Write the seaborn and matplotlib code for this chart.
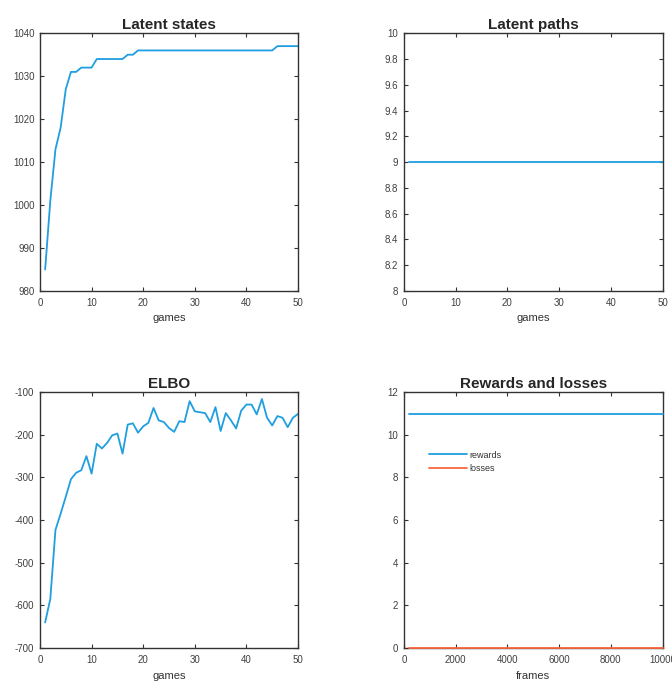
import matplotlib
matplotlib.use("Agg")
import matplotlib.pyplot as plt
import numpy as np
import pandas as pd
import seaborn as sns
from matplotlib.ticker import FormatStrFormatter

# ---- data ----
games = np.arange(1, 51)

latent_states = [985, 1001, 1013, 1018, 1027, 1031, 1031, 1032, 1032, 1032,
                 1034, 1034, 1034, 1034, 1034, 1034, 1035, 1035, 1036, 1036,
                 1036, 1036, 1036, 1036, 1036, 1036, 1036, 1036, 1036, 1036,
                 1036, 1036, 1036, 1036, 1036, 1036, 1036, 1036, 1036, 1036,
                 1036, 1036, 1036, 1036, 1036, 1037, 1037, 1037, 1037, 1037]

latent_paths = [9] * 50

elbo = [-640, -585, -423, -385, -345, -304, -289, -283, -250, -291,
        -221, -232, -219, -201, -197, -244, -176, -173, -195, -180,
        -172, -137, -166, -170, -184, -193, -168, -170, -121, -145,
        -147, -149, -170, -135, -191, -149, -166, -185, -143, -129,
        -129, -152, -116, -160, -178, -156, -160, -182, -160, -151]

frames = np.arange(200, 10001, 200)
rewards = [11] * 50
losses = [0] * 50

BLUE = "#1f9ee0"
ORANGE = "#f8693a"

sns.set_theme(style="ticks")
plt.rcParams["font.family"] = ["Liberation Sans", "DejaVu Sans"]
plt.rcParams["axes.unicode_minus"] = False

fig = plt.figure(figsize=(6.72, 6.84), dpi=100)
ax_states = fig.add_axes([0.0595, 0.5746, 0.384, 0.3768])
ax_paths = fig.add_axes([0.601, 0.5746, 0.385, 0.3768])
ax_elbo = fig.add_axes([0.0595, 0.0526, 0.384, 0.374])
ax_rl = fig.add_axes([0.601, 0.0526, 0.385, 0.374])


def style_axes(ax, title, xlabel):
    ax.set_title(title, fontsize=11, fontweight="bold", pad=3)
    ax.set_xlabel(xlabel, fontsize=8, color="#333333", labelpad=4)
    ax.set_ylabel("")
    ax.tick_params(direction="in", length=3, width=0.8, top=True, right=True,
                   labelsize=7, labelcolor="#404040", color="#333333")
    ax.tick_params(axis="x", pad=5)
    ax.tick_params(axis="y", pad=4)
    for sp in ax.spines.values():
        sp.set_visible(True)
        sp.set_color("#333333")
        sp.set_linewidth(1.0)


# Latent states
sns.lineplot(x=games, y=latent_states, ax=ax_states, color=BLUE, linewidth=1.3)
ax_states.set_xlim(0, 50)
ax_states.set_ylim(980, 1040)
ax_states.set_xticks(range(0, 51, 10))
ax_states.set_yticks(range(980, 1041, 10))
style_axes(ax_states, "Latent states", "games")

# Latent paths
sns.lineplot(x=games, y=latent_paths, ax=ax_paths, color=BLUE, linewidth=1.3)
ax_paths.set_xlim(0, 50)
ax_paths.set_ylim(8, 10)
ax_paths.set_xticks(range(0, 51, 10))
ax_paths.set_yticks(np.linspace(8, 10, 11))
ax_paths.yaxis.set_major_formatter(FormatStrFormatter("%g"))
style_axes(ax_paths, "Latent paths", "games")

# ELBO
sns.lineplot(x=games, y=elbo, ax=ax_elbo, color=BLUE, linewidth=1.3)
ax_elbo.set_xlim(0, 50)
ax_elbo.set_ylim(-700, -100)
ax_elbo.set_xticks(range(0, 51, 10))
ax_elbo.set_yticks(range(-700, -99, 100))
style_axes(ax_elbo, "ELBO", "games")

# Rewards and losses
rl = pd.DataFrame({
    "frames": np.concatenate([frames, frames]),
    "value": rewards + losses,
    "series": ["rewards"] * len(rewards) + ["losses"] * len(losses),
})
sns.lineplot(data=rl, x="frames", y="value", hue="series", ax=ax_rl,
             palette={"rewards": BLUE, "losses": ORANGE}, linewidth=1.3)
for ln in ax_rl.get_lines():
    ln.set_clip_on(False)
    ln.set_zorder(5)
ax_rl.set_xlim(0, 10000)
ax_rl.set_ylim(0, 12)
ax_rl.set_xticks(range(0, 10001, 2000))
ax_rl.set_yticks(range(0, 13, 2))
style_axes(ax_rl, "Rewards and losses", "frames")
leg = ax_rl.legend(loc="center left", bbox_to_anchor=(0.065, 0.728),
                   frameon=False, fontsize=6.5, handlelength=4.2,
                   handletextpad=0.3, labelspacing=0.5)
for t in leg.get_texts():
    t.set_color("#333333")

fig.savefig("out.png", dpi=100)
